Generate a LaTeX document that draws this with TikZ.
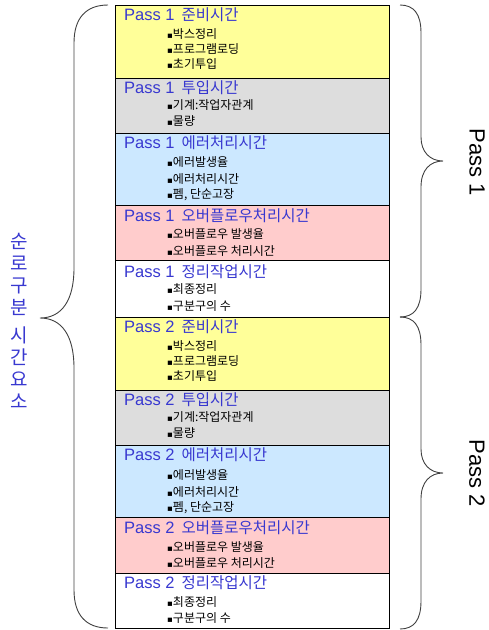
\documentclass[tikz,border=0pt]{standalone}
\usepackage{fontspec}
\setmainfont{Liberation Sans}
\newfontfamily\kr{Noto Sans CJK KR}
\newfontfamily\symf{DejaVu Sans}
\definecolor{cyel}{HTML}{FFFF99}
\definecolor{cgry}{HTML}{DDDDDD}
\definecolor{cblu}{HTML}{CCE8FF}
\definecolor{cpnk}{HTML}{FFCCCC}
\definecolor{hblue}{HTML}{3838D0}
\newcommand\hd[2]{{\fontsize{16.5}{18}\selectfont Pass #1}\hspace{7pt}{\kr\fontsize{15.5}{18}\selectfont #2}}
\newcommand\itm[1]{{\symf\fontsize{8.5}{10}\selectfont ▪}{\kr\fontsize{12}{13}\selectfont #1}}
\tikzset{
  boxr/.style={draw=black, line width=0.8pt},
  head/.style={anchor=base west, inner sep=0pt, text=hblue},
  item/.style={anchor=base west, inner sep=0pt, text=black},
  brace/.style={draw=black!75, line width=0.9pt},
}
\begin{document}
\begin{tikzpicture}[x=1pt,y=-1pt]
\useasboundingbox (0,0) rectangle (488,630);
% boxes
\filldraw[boxr, fill=cyel] (115,5) rectangle (389,78);
\filldraw[boxr, fill=cgry] (115,78) rectangle (389,133);
\filldraw[boxr, fill=cblu] (115,133) rectangle (389,205);
\filldraw[boxr, fill=cpnk] (115,205) rectangle (389,260);
\filldraw[boxr, fill=white] (115,260) rectangle (389,317);
\filldraw[boxr, fill=cyel] (115,317) rectangle (389,390);
\filldraw[boxr, fill=cgry] (115,390) rectangle (389,445);
\filldraw[boxr, fill=cblu] (115,445) rectangle (389,517);
\filldraw[boxr, fill=cpnk] (115,517) rectangle (389,573);
\filldraw[boxr, fill=white] (115,573) rectangle (389,628);
% Pass 1
\node[head] (h1) at (124,20) {\hd{1}{준비시간}};
\node[item] (i11) at (167,38) {\itm{박스정리}};
\node[item] (i12) at (167,53) {\itm{프로그램로딩}};
\node[item] (i13) at (167,68) {\itm{초기투입}};
\node[head] (h2) at (124,93) {\hd{1}{투입시간}};
\node[item] (i21) at (167,109) {\itm{기계:작업자관계}};
\node[item] (i22) at (167,125) {\itm{물량}};
\node[head] (h3) at (124,148) {\hd{1}{에러처리시간}};
\node[item] (i31) at (167,166) {\itm{에러발생율}};
\node[item] (i32) at (167,183) {\itm{에러처리시간}};
\node[item] (i33) at (167,198) {\itm{펨, 단순고장}};
\node[head] (h4) at (124,221) {\hd{1}{오버플로우처리시간}};
\node[item] (i41) at (167,238) {\itm{오버플로우 발생율}};
\node[item] (i42) at (167,255) {\itm{오버플로우 처리시간}};
\node[head] (h5) at (124,277) {\hd{1}{정리작업시간}};
\node[item] (i51) at (167,293) {\itm{최종정리}};
\node[item] (i52) at (167,310) {\itm{구분구의 수}};
% Pass 2
\node[head] (h6) at (124,332) {\hd{2}{준비시간}};
\node[item] (i61) at (167,350) {\itm{박스정리}};
\node[item] (i62) at (167,365) {\itm{프로그램로딩}};
\node[item] (i63) at (167,380) {\itm{초기투입}};
\node[head] (h7) at (124,405) {\hd{2}{투입시간}};
\node[item] (i71) at (167,421) {\itm{기계:작업자관계}};
\node[item] (i72) at (167,437) {\itm{물량}};
\node[head] (h8) at (124,460) {\hd{2}{에러처리시간}};
\node[item] (i81) at (167,479) {\itm{에러발생율}};
\node[item] (i82) at (167,496) {\itm{에러처리시간}};
\node[item] (i83) at (167,511) {\itm{펨, 단순고장}};
\node[head] (h9) at (124,533) {\hd{2}{오버플로우처리시간}};
\node[item] (i91) at (167,551) {\itm{오버플로우 발생율}};
\node[item] (i92) at (167,567) {\itm{오버플로우 처리시간}};
\node[head] (h10) at (124,588) {\hd{2}{정리작업시간}};
\node[item] (i101) at (167,606) {\itm{최종정리}};
\node[item] (i102) at (167,622) {\itm{구분구의 수}};
% left brace
\draw[brace] (108,5) .. controls (86,5) and (74,18) .. (74,43) -- (74,268)
  .. controls (74,300) and (62,318) .. (40,318)
  .. controls (62,318) and (74,336) .. (74,368) -- (74,590)
  .. controls (74,615) and (86,628) .. (108,628);
% right braces
\draw[brace] (400,5) .. controls (414,5) and (421,14) .. (421,33) -- (421,137)
  .. controls (421,152) and (430,161) .. (443,161)
  .. controls (430,161) and (421,170) .. (421,187) -- (421,289)
  .. controls (421,308) and (414,317) .. (400,317);
\draw[brace] (400,317) .. controls (414,317) and (421,326) .. (421,345) -- (421,449)
  .. controls (421,464) and (430,473) .. (443,473)
  .. controls (430,473) and (421,482) .. (421,499) -- (421,601)
  .. controls (421,620) and (414,629) .. (400,629);
% labels
\node[rotate=-90, inner sep=0pt, font=\fontsize{22}{24}\selectfont] (p1) at (477,162) {Pass 1};
\node[rotate=-90, inner sep=0pt, font=\fontsize{22}{24}\selectfont] (p2) at (477,473) {Pass 2};
\node[align=center, inner sep=0pt, text=hblue, font=\kr\fontsize{19}{22}\selectfont] (lt) at (19,321)
  {순\\로\\구\\분\\[6pt]시\\간\\요\\소};
\end{tikzpicture}
\end{document}
